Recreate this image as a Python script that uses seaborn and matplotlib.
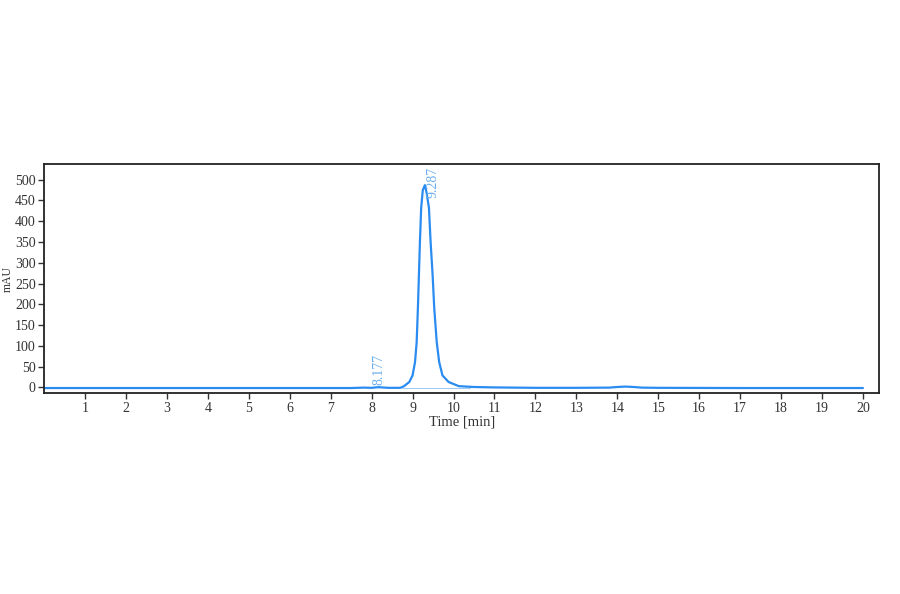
import numpy as np
import pandas as pd
import matplotlib
matplotlib.use('Agg')
import matplotlib.pyplot as plt
import seaborn as sns

# trace points
time_min = [0.0, 2.0, 4.0, 6.0, 7.5, 7.8, 8.0, 8.1, 8.177, 8.25, 8.4, 8.6, 8.70,
            8.79, 8.92, 9.00, 9.06, 9.10, 9.13, 9.155, 9.18, 9.21, 9.25, 9.30, 9.34,
            9.40, 9.44, 9.49, 9.53, 9.59, 9.65, 9.73, 9.88, 10.13, 10.5, 11.0, 12.0,
            13.0, 13.8, 14.0, 14.2, 14.4, 14.6, 15.0, 17.0, 20.0]
mau = [-1.5, -1.5, -1.5, -1.5, -1.5, -0.5, -1.0, 0.0, 0.5, 0.0, -1.0, -1.0, -1.0,
       3.0, 13.0, 29.0, 61.0, 109.0, 190.0, 270.0, 351.0, 432.0, 475.0, 487.0, 470.0,
       432.0, 351.0, 270.0, 190.0, 109.0, 61.0, 29.0, 13.0, 3.0, 1.0, 0.0, -1.0,
       -1.0, -0.5, 1.0, 2.0, 1.0, -0.5, -1.0, -1.5, -1.5]
peak_times = [8.177, 9.287]
peak_labels = ['8.177', '9.287']
label_y = [6, 455]
x_ticks = list(range(1, 21))
y_ticks = list(range(0, 501, 50))

df = pd.DataFrame({'Time': time_min, 'mAU': mau})

sns.set_style('ticks')
plt.rcParams['font.family'] = ['Liberation Serif', 'DejaVu Serif']

fig = plt.figure(figsize=(9, 5.94), dpi=100)
ax = fig.add_axes([0.049, 0.338, 0.928, 0.386])

line_color = '#2a8cf0'
sns.lineplot(data=df, x='Time', y='mAU', ax=ax, color=line_color, linewidth=1.6)
ax.plot([8.75, 10.4], [-1, -1], color='#9cc8f5', linewidth=0.7)

for t, lab, yy in zip(peak_times, peak_labels, label_y):
    ax.text(t + 0.05 if t > 9 else t, yy, lab, rotation=90, color='#6aaef0',
            fontsize=10, ha='left' if t > 9 else 'center', va='bottom')

ax.set_xlim(0, 20.4)
ax.set_ylim(-14, 538)
ax.set_xticks(x_ticks)
ax.set_yticks(y_ticks)
ax.tick_params(axis='both', labelsize=10, length=4, width=1, direction='out',
               colors='#333333', pad=2)
ax.set_xlabel('Time [min]', fontsize=10.5, color='#333333', labelpad=1)
ax.set_ylabel('mAU', fontsize=8.5, color='#333333', labelpad=1)
for s in ax.spines.values():
    s.set_visible(True)
    s.set_linewidth(1.3)
    s.set_color('#222222')

fig.savefig('out.png', dpi=100)
